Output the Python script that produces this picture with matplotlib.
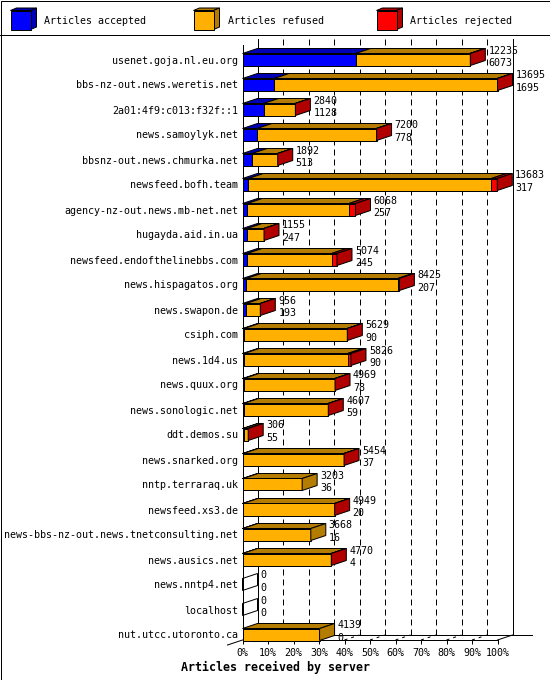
import matplotlib
matplotlib.use("Agg")
import matplotlib.pyplot as plt
from matplotlib.patches import Polygon, Rectangle
import numpy as np

# ── data ──────────────────────────────────────────────────────────────────────
servers = [
    "usenet.goja.nl.eu.org", "bbs-nz-out.news.weretis.net", "2a01:4f9:c013:f32f::1",
    "news.samoylyk.net", "bbsnz-out.news.chmurka.net", "newsfeed.bofh.team",
    "agency-nz-out.news.mb-net.net", "hugayda.aid.in.ua", "newsfeed.endofthelinebbs.com",
    "news.hispagatos.org", "news.swapon.de", "csiph.com", "news.1d4.us",
    "news.quux.org", "news.sonologic.net", "ddt.demos.su", "news.snarked.org",
    "nntp.terraraq.uk", "newsfeed.xs3.de", "news-bbs-nz-out.news.tnetconsulting.net",
    "news.ausics.net", "news.nntp4.net", "localhost", "nut.utcc.utoronto.ca",
]
total = [12235, 13695, 2840, 7200, 1892, 13683, 6068, 1155, 5074, 8425, 956, 5629,
         5826, 4969, 4607, 306, 5454, 3203, 4949, 3668, 4770, 0, 0, 4139]
accepted = [6073, 1695, 1128, 778, 513, 317, 257, 247, 245, 207, 193, 90,
            90, 78, 59, 55, 37, 36, 20, 16, 4, 0, 0, 0]
rejected = [30, 20, 15, 10, 10, 320, 350, 5, 290, 90, 5, 5,
            180, 5, 5, 5, 5, 0, 5, 0, 5, 0, 0, 0]
refused = [t - a - r for t, a, r in zip(total, accepted, rejected)]
series_names = ["Articles accepted", "Articles refused", "Articles rejected"]
tick_labels = [f"{v}%" for v in range(0, 101, 10)]

# ── style ─────────────────────────────────────────────────────────────────────
FRONT = ["#0000ff", "#ffb000", "#ff0000"]
DARK = ["#0000b4", "#b47c00", "#b00000"]
MONO = "DejaVu Sans Mono"
PX = 0.72           # one pixel in points at dpi 100
W, H = 550, 680
DX = 15 / 255 * 100  # depth in percent units
DY = -5 / 25         # depth in rows (up)
HALF = 6 / 25        # half bar height in rows
Y_BOT = (640 - 59.5) / 25
Y_TOP = (35 - 59.5) / 25

fig = plt.figure(figsize=(W / 100, H / 100), dpi=100)
fig.patch.set_facecolor("white")

# overlay in pixel coordinates: frame, legend
ov = fig.add_axes([0, 0, 1, 1])
ov.set_xlim(0, W)
ov.set_ylim(H, 0)
ov.axis("off")
ov.add_patch(Rectangle((0.5, 0.5), W - 1, H - 1, fill=False, lw=PX, ec="black"))
ov.plot([0, W], [35, 35], color="black", lw=PX)
for k, (name, fc, dc) in enumerate(zip(series_names, FRONT, DARK)):
    x0 = 10.5 + 183 * k
    ov.add_patch(Polygon([(x0, 10.5), (x0 + 20, 10.5), (x0 + 26, 8), (x0 + 6, 8)],
                         closed=True, fc=dc, ec="black", lw=PX))
    ov.add_patch(Polygon([(x0 + 20, 10.5), (x0 + 26, 8), (x0 + 26, 27), (x0 + 20, 29.5)],
                         closed=True, fc=dc, ec="black", lw=PX))
    ov.add_patch(Rectangle((x0, 10.5), 20, 19, fc=fc, ec="black", lw=PX))
    ov.text(x0 + 34, 23.8, name, family=MONO, fontsize=7.2, va="baseline")

# main chart
ax = fig.add_axes([242.5 / W, (H - 640) / H, 255 / W, 605 / H])
ax.patch.set_alpha(0)
ax.set_xlim(0, 100)
ax.set_ylim(Y_BOT, Y_TOP)
for s in ("top", "right"):
    ax.spines[s].set_visible(False)
ax.spines["left"].set_bounds(Y_BOT, (45 - 59.5) / 25)
ax.spines["left"].set_linewidth(PX)
ax.spines["bottom"].set_linewidth(PX)

ax.set_xticks(range(0, 101, 10), tick_labels, family=MONO, fontsize=7.2)
ax.set_yticks(range(len(servers)), servers, family=MONO, fontsize=7.2)
ax.tick_params(axis="x", length=4 * PX, width=PX, pad=2.9)
ax.tick_params(axis="y", length=0, pad=3.0)
ax.set_xlabel("Articles received by server", family=MONO, fontweight="bold",
              fontsize=8.4)
ax.xaxis.set_label_coords((275.5 - 242.5) / 255, -(661 - 640) / 605)

# back plane
back_bot = Y_BOT + DY
g_top = (39 - 59.5) / 25
for v in range(10, 100, 10):
    ax.plot([v + DX, v + DX], [g_top, back_bot], color="black", lw=PX,
            ls=(0, (6, 4)), zorder=0, clip_on=False)
    ax.plot([v, v + DX], [Y_BOT, back_bot], color="black", lw=PX,
            ls=(0, (3, 4)), zorder=0, clip_on=False)
ax.plot([DX, DX], [g_top, back_bot], color="black", lw=PX, zorder=0, clip_on=False)
ax.plot([100 + DX, 100 + DX], [g_top, back_bot], color="black", lw=PX, zorder=0, clip_on=False)
ax.plot([DX, 113.5], [back_bot, back_bot], color="black", lw=PX, zorder=0, clip_on=False)
ax.plot([100, 100 + DX], [Y_BOT, back_bot], color="black", lw=PX, zorder=0, clip_on=False)
ax.plot([-DX, 0], [Y_BOT - DY, Y_BOT], color="black", lw=PX, zorder=0, clip_on=False)

# bars
vmax = max(total)
parts = np.array([accepted, refused, rejected], dtype=float) / vmax * 100
for i in range(len(servers)):
    yt, yb = i - HALF, i + HALF
    left = 0.0
    last = None
    for j in range(3):
        w = parts[j, i]
        if w <= 0:
            continue
        ax.add_patch(Polygon([(left, yt), (left + w, yt), (left + w + DX, yt + DY),
                              (left + DX, yt + DY)], closed=True, fc=DARK[j],
                             ec="black", lw=PX, zorder=3, clip_on=False))
        ax.barh(i, w, left=left, height=2 * HALF, color=FRONT[j], edgecolor="black",
                linewidth=PX, zorder=4, clip_on=False)
        left += w
        last = j
    side = [(left, yt), (left + DX, yt + DY), (left + DX, yb + DY), (left, yb)]
    if last is None:
        ax.add_patch(Polygon(side, closed=True, fill=False, ec="black", lw=PX,
                             zorder=3, clip_on=False))
    else:
        ax.add_patch(Polygon(side, closed=True, fc=DARK[last], ec="black", lw=PX,
                             zorder=5, clip_on=False))
    ax.annotate(str(total[i]), xy=(left + DX, i - 0.24), xytext=(3, 0),
                textcoords="offset pixels", family=MONO, fontsize=7.2,
                va="baseline", zorder=6, annotation_clip=False)
    ax.annotate(str(accepted[i]), xy=(left + DX, i + 0.25), xytext=(3, 0),
                textcoords="offset pixels", family=MONO, fontsize=7.2,
                va="baseline", zorder=6, annotation_clip=False)

fig.savefig("out.png", dpi=100)
